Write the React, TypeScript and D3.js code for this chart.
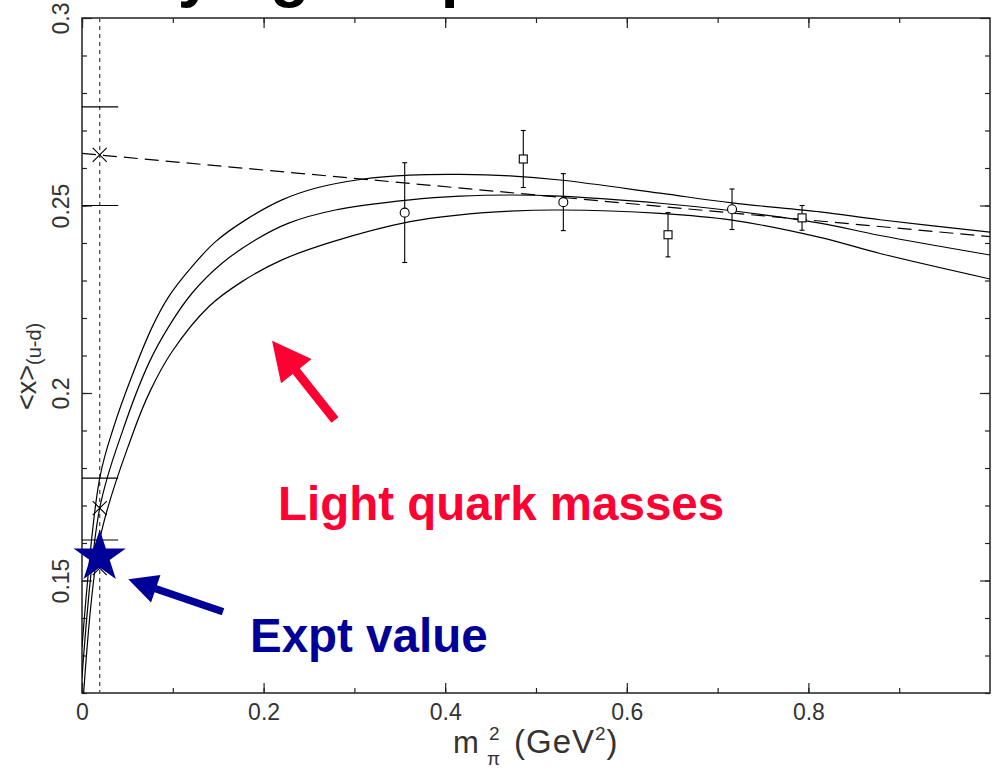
import React, { useEffect, useRef } from "react";
import * as d3 from "d3";

// lattice results: m_pi^2 (GeV^2), <x>_(u-d) and error
const circleX = [0.3554, 0.5301, 0.7159];
const circleY = [0.2481, 0.2509, 0.249];
const circleErr = [0.0133, 0.0076, 0.0054];

const squareX = [0.486, 0.6454, 0.793];
const squareY = [0.2624, 0.2422, 0.2467];
const squareErr = [0.0076, 0.0059, 0.0033];

// extrapolations to the physical pion mass
const physX = 0.0195;
const crossY = [0.2635, 0.1693, 0.1533];
const crossHi = [0.2763, 0.1773];
const crossLo = [0.25, 0.1608];
const exptY = 0.1563;

// chiral fit (central value and error band)
const upperX = [0, 0.0195, 0.035, 0.0551, 0.0771, 0.0955, 0.1211, 0.1468, 0.1798, 0.2203, 0.2569, 0.3084, 0.3612, 0.4163, 0.4714, 0.5264, 0.6366, 0.7159, 0.8128, 0.8789, 1.0];
const upperY = [0.1323, 0.1773, 0.191, 0.2046, 0.2175, 0.2257, 0.2337, 0.2403, 0.2461, 0.2515, 0.2546, 0.257, 0.2581, 0.2583, 0.2579, 0.2568, 0.2533, 0.2507, 0.2483, 0.2462, 0.2429];

const middleX = [0, 0.0195, 0.045, 0.0735, 0.0955, 0.1211, 0.1542, 0.1909, 0.2276, 0.279, 0.3612, 0.4163, 0.4714, 0.5264, 0.6366, 0.7159, 0.8128, 0.8789, 1.0];
const middleY = [0.124, 0.1693, 0.1901, 0.2079, 0.2177, 0.2266, 0.2346, 0.2408, 0.2453, 0.2488, 0.2515, 0.2525, 0.2528, 0.2525, 0.2506, 0.2486, 0.2453, 0.242, 0.2368];

const lowerX = [0, 0.0195, 0.0551, 0.075, 0.0991, 0.1395, 0.1762, 0.2203, 0.2753, 0.3612, 0.4163, 0.4714, 0.5264, 0.6366, 0.7159, 0.8128, 0.8789, 1.0];
const lowerY = [0.113, 0.1608, 0.1886, 0.2005, 0.211, 0.223, 0.2297, 0.2355, 0.2403, 0.2457, 0.2475, 0.2485, 0.2488, 0.2479, 0.2461, 0.2415, 0.2372, 0.2304];

// linear fit
const linearX = [0, 1];
const linearY = [0.2639, 0.2417];

const xTicks = [0, 0.2, 0.4, 0.6, 0.8];
const xTickLabels = ["0", "0.2", "0.4", "0.6", "0.8"];
const yTicks = [0.15, 0.2, 0.25, 0.3];
const yTickLabels = ["0.15", "0.2", "0.25", "0.3"];

const RED = "#ff0033";
const BLUE = "#000099";
const LABEL_FONT = "'Liberation Sans', Arial, sans-serif";

const App = () => {
  const svgRef = useRef<SVGSVGElement>(null);

  useEffect(() => {
    const svg = d3.select(svgRef.current);
    svg.selectAll("*").remove();

    const left = 82, right = 990, top = 18, bottom = 693;
    const x = d3.scaleLinear().domain([0, 1]).range([left, right]);
    const y = d3.scaleLinear().domain([0.12, 0.3]).range([bottom, top]);

    // slide title, cut off by the top of the image
    svg.append("text")
      .attr("x", 78)
      .attr("y", -5.5)
      .attr("font-family", LABEL_FONT)
      .attr("font-weight", "bold")
      .attr("font-size", 64)
      .text("Varying the pion mass");

    svg.append("defs").append("clipPath").attr("id", "plot-clip")
      .append("rect")
      .attr("x", left).attr("y", top)
      .attr("width", right - left).attr("height", bottom - top);

    // ticks, all pointing inwards
    const minorX = d3.range(0, 10).map((i) => i / 10);
    const minorY = d3.range(12, 30).map((i) => i / 100);
    const tickStyle = (g) => {
      g.select(".domain").remove();
      g.selectAll("line").attr("stroke", "#222").attr("stroke-width", 1.2);
    };

    svg.append("g").attr("transform", `translate(0,${bottom})`)
      .call(d3.axisBottom(x).tickValues(minorX).tickSize(-5).tickSizeOuter(0).tickFormat(() => ""))
      .call(tickStyle);
    svg.append("g").attr("transform", `translate(0,${top})`)
      .call(d3.axisTop(x).tickValues(minorX).tickSize(-5).tickSizeOuter(0).tickFormat(() => ""))
      .call(tickStyle);
    svg.append("g").attr("transform", `translate(${left},0)`)
      .call(d3.axisLeft(y).tickValues(minorY).tickSize(-5).tickSizeOuter(0).tickFormat(() => ""))
      .call(tickStyle);
    svg.append("g").attr("transform", `translate(${right},0)`)
      .call(d3.axisRight(y).tickValues(minorY).tickSize(-5).tickSizeOuter(0).tickFormat(() => ""))
      .call(tickStyle);

    const xAxis = svg.append("g").attr("transform", `translate(0,${bottom})`)
      .call(d3.axisBottom(x).tickValues(xTicks).tickSize(-10).tickSizeOuter(0).tickPadding(11)
        .tickFormat((d, i) => xTickLabels[i]))
      .call(tickStyle);
    xAxis.selectAll("text")
      .attr("font-family", LABEL_FONT).attr("font-size", 23).attr("fill", "#333");

    svg.append("g").attr("transform", `translate(0,${top})`)
      .call(d3.axisTop(x).tickValues(xTicks).tickSize(-10).tickSizeOuter(0).tickFormat(() => ""))
      .call(tickStyle);

    const yAxis = svg.append("g").attr("transform", `translate(${left},0)`)
      .call(d3.axisLeft(y).tickValues(yTicks).tickSize(-10).tickSizeOuter(0)
        .tickFormat((d, i) => yTickLabels[i]))
      .call(tickStyle);
    yAxis.selectAll("text")
      .attr("x", 0).attr("dy", 0)
      .attr("text-anchor", "middle")
      .attr("transform", "translate(-13,0) rotate(-90)")
      .attr("font-family", LABEL_FONT).attr("font-size", 23).attr("fill", "#333");

    svg.append("g").attr("transform", `translate(${right},0)`)
      .call(d3.axisRight(y).tickValues(yTicks).tickSize(-10).tickSizeOuter(0).tickFormat(() => ""))
      .call(tickStyle);

    // frame
    svg.append("rect")
      .attr("x", left).attr("y", top)
      .attr("width", right - left).attr("height", bottom - top)
      .attr("fill", "none").attr("stroke", "#222").attr("stroke-width", 1.5);

    const plot = svg.append("g").attr("clip-path", "url(#plot-clip)");

    // physical pion mass
    plot.append("line")
      .attr("x1", x(physX)).attr("x2", x(physX))
      .attr("y1", top).attr("y2", bottom)
      .attr("stroke", "#555").attr("stroke-width", 1.4)
      .attr("stroke-dasharray", "4,4");

    const drawCurve = (xs, ys, dash) => {
      const line = d3.line<number>()
        .x((d, i) => x(xs[i]))
        .y((d) => y(d))
        .curve(d3.curveCatmullRom.alpha(0.5));
      plot.append("path")
        .attr("d", line(ys))
        .attr("fill", "none")
        .attr("stroke", "#000")
        .attr("stroke-width", 1.2)
        .attr("stroke-dasharray", dash);
    };
    drawCurve(upperX, upperY, null);
    drawCurve(middleX, middleY, null);
    drawCurve(lowerX, lowerY, null);
    drawCurve(linearX, linearY, "14,7");

    // error bars on lattice points
    const drawErrors = (xs, ys, errs) => {
      xs.forEach((xv, i) => {
        const g = plot.append("g").attr("stroke", "#000").attr("stroke-width", 1.1);
        const cx = x(xv);
        g.append("line").attr("x1", cx).attr("x2", cx)
          .attr("y1", y(ys[i] + errs[i])).attr("y2", y(ys[i] - errs[i]));
        [ys[i] + errs[i], ys[i] - errs[i]].forEach((v) => {
          g.append("line").attr("x1", cx - 2.5).attr("x2", cx + 2.5)
            .attr("y1", y(v)).attr("y2", y(v));
        });
      });
    };
    drawErrors(circleX, circleY, circleErr);
    drawErrors(squareX, squareY, squareErr);

    plot.selectAll(".circ")
      .data(circleX)
      .enter()
      .append("circle")
      .attr("cx", (d) => x(d))
      .attr("cy", (d, i) => y(circleY[i]))
      .attr("r", 4.5)
      .attr("fill", "#fff").attr("stroke", "#000").attr("stroke-width", 1.1);

    plot.selectAll(".sq")
      .data(squareX)
      .enter()
      .append("rect")
      .attr("x", (d) => x(d) - 4)
      .attr("y", (d, i) => y(squareY[i]) - 4)
      .attr("width", 8).attr("height", 8)
      .attr("fill", "#fff").attr("stroke", "#000").attr("stroke-width", 1.1);

    // wide caps of the extrapolated values
    [...crossHi, ...crossLo].forEach((v) => {
      plot.append("line")
        .attr("x1", x(physX) - 18.5).attr("x2", x(physX) + 18.5)
        .attr("y1", y(v)).attr("y2", y(v))
        .attr("stroke", "#000").attr("stroke-width", 1.1);
    });
    plot.selectAll(".cross")
      .data(crossY)
      .enter()
      .append("path")
      .attr("d", d3.symbol().type(d3.symbolX).size(130))
      .attr("transform", (d) => `translate(${x(physX)},${y(d)})`)
      .attr("fill", "none").attr("stroke", "#000").attr("stroke-width", 1.1);

    // annotations
    const arrow = (x0, y0, x1, y1, headLen, headW, shaftW, color) => {
      const tx = x(x1), ty = y(y1), sx = x(x0), sy = y(y0);
      const len = Math.hypot(tx - sx, ty - sy);
      const ux = (tx - sx) / len, uy = (ty - sy) / len;
      const px = -uy, py = ux;
      const bx = tx - ux * headLen, by = ty - uy * headLen;
      const pts = [
        [sx + px * shaftW / 2, sy + py * shaftW / 2],
        [bx + px * shaftW / 2, by + py * shaftW / 2],
        [bx + px * headW / 2, by + py * headW / 2],
        [tx, ty],
        [bx - px * headW / 2, by - py * headW / 2],
        [bx - px * shaftW / 2, by - py * shaftW / 2],
        [sx - px * shaftW / 2, sy - py * shaftW / 2],
      ];
      svg.append("polygon")
        .attr("points", pts.map((p) => p.join(",")).join(" "))
        .attr("fill", color);
    };
    arrow(0.2786, 0.1928, 0.2093, 0.21395, 39, 39, 9, RED);
    arrow(0.1553, 0.14168, 0.051, 0.15032, 29, 29, 7.5, BLUE);

    svg.append("path")
      .attr("d", d3.symbol().type(d3.symbolStar).size(27.5 * 27.5 / 0.8908))
      .attr("transform", `translate(${x(physX)},${y(exptY)})`)
      .attr("fill", BLUE);

    svg.append("text")
      .attr("x", x(0.2159)).attr("y", y(0.16613))
      .attr("font-family", LABEL_FONT).attr("font-weight", "bold")
      .attr("font-size", 47.5).attr("fill", RED)
      .text("Light quark masses");

    svg.append("text")
      .attr("x", x(0.185)).attr("y", y(0.13101))
      .attr("font-family", LABEL_FONT).attr("font-weight", "bold")
      .attr("font-size", 47.5).attr("fill", BLUE)
      .text("Expt value");

    // axis titles
    const yTitle = svg.append("text")
      .attr("transform", "translate(36,410) rotate(-90)")
      .attr("font-family", LABEL_FONT).attr("font-size", 27).attr("fill", "#333");
    yTitle.append("tspan").text("<x>");
    yTitle.append("tspan").attr("dy", 5).attr("font-size", 20).text("(u-d)");

    const xt = svg.append("g").attr("font-family", LABEL_FONT).attr("fill", "#333");
    xt.append("text").attr("x", 453).attr("y", 753).attr("font-size", 31).text("m");
    xt.append("text").attr("x", 487).attr("y", 765).attr("font-size", 19).text("\u03c0");
    xt.append("text").attr("x", 489).attr("y", 740).attr("font-size", 19).text("2");
    const gev = xt.append("text").attr("x", 514).attr("y", 753)
      .attr("font-size", 33).attr("letter-spacing", 1);
    gev.append("tspan").text("(GeV");
    gev.append("tspan").attr("dy", -13).attr("font-size", 19).text("2");
    gev.append("tspan").attr("dy", 13).text(")");
  }, []);

  return (
    <svg
      ref={svgRef}
      width={996}
      height={769}
      style={{ position: "absolute", left: 0, top: 0, background: "#fff" }}
    />
  );
};

export default App;
